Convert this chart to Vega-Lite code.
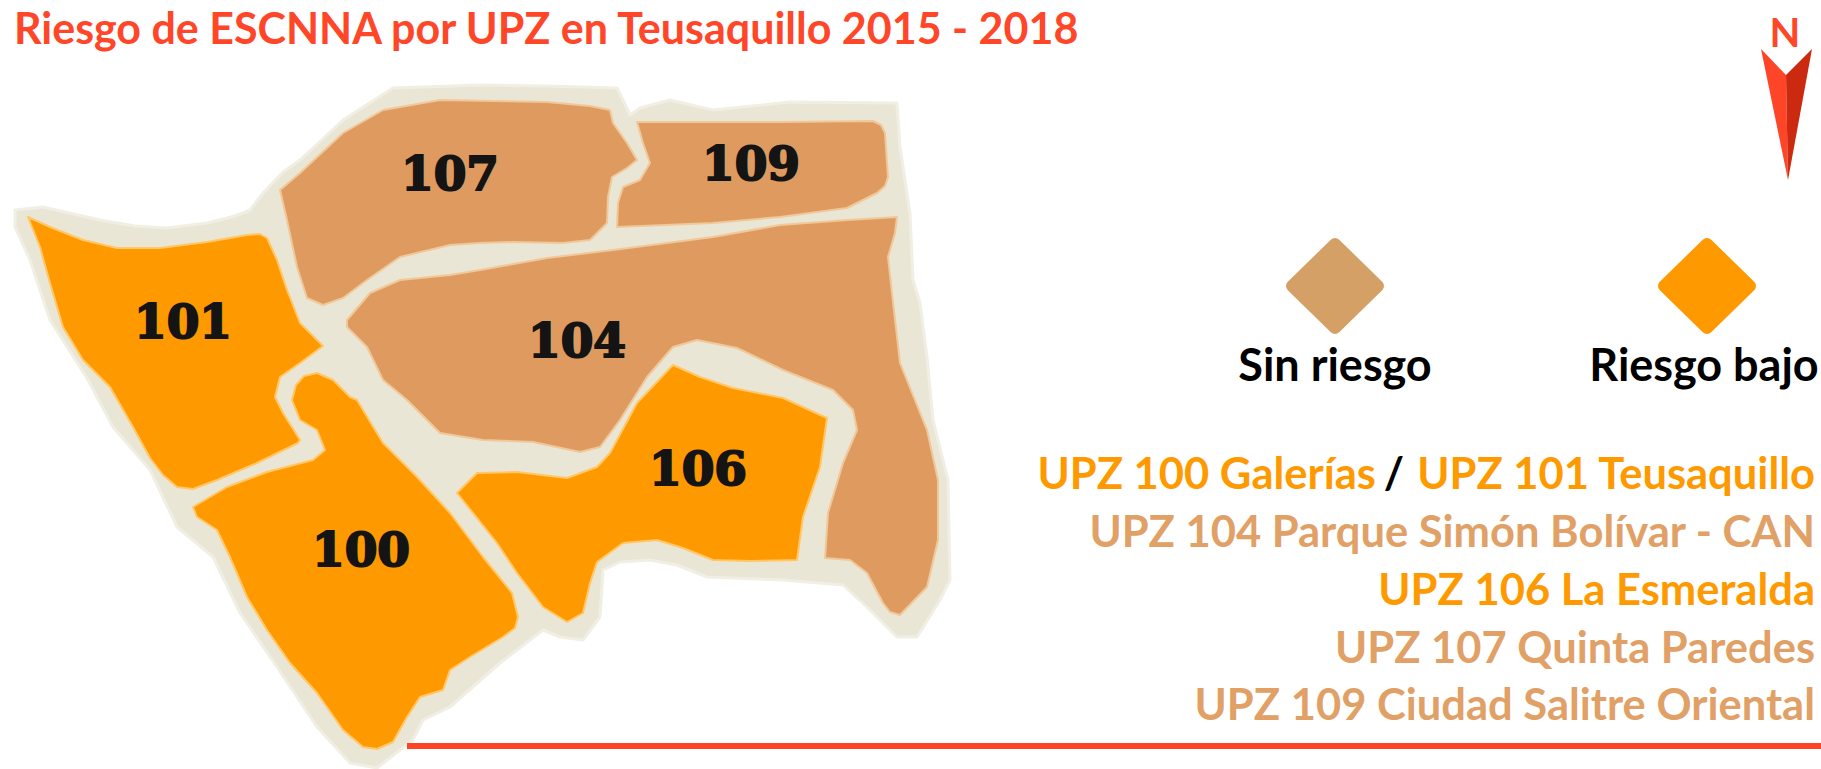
{"$schema":"https://vega.github.io/schema/vega-lite/v6.json","width":1821,"height":769,"autosize":{"type":"fit","contains":"padding"},"padding":0,"background":"white","view":{"stroke":null},"projection":{"type":"identity","scale":1,"translate":[0,0]},"resolve":{"scale":{"fill":"independent","stroke":"independent"}},
"layer":[
{"data":{"values":[{"type":"Feature","properties":{"nombre":"contorno"},"geometry":{"type":"Polygon","coordinates":[[[15,210],[43,207],[100,220],[135,226],[167,228],[207,223],[235,216],[250,210],[263,193],[283,172],[300,160],[343,120],[393,88],[480,85],[547,86],[617,88],[624,102],[630,115],[640,108],[670,100],[713,110],[790,102],[897,103],[900,147],[910,213],[913,280],[920,303],[927,357],[933,420],[948,480],[950,580],[940,600],[917,637],[897,637],[867,607],[843,585],[783,580],[707,577],[677,565],[650,560],[620,562],[603,570],[600,617],[583,640],[560,637],[543,630],[500,663],[450,707],[423,720],[413,740],[377,768],[350,763],[317,727],[277,667],[240,613],[213,557],[177,527],[150,470],[113,427],[88,380],[50,320],[30,260],[15,227],[15,210]]]}}]},"mark":{"type":"geoshape","fill":"#E9E6D6","stroke":"#F1EFE4","strokeWidth":3,"strokeJoin":"round"}},
{"data":{"values":[
{"type":"Feature","properties":{"upz":"101","riesgo":"Riesgo bajo"},"geometry":{"type":"Polygon","coordinates":[[[28,217],[50,227],[83,240],[117,248],[160,248],[207,242],[247,235],[260,234],[267,238],[277,260],[287,290],[300,323],[323,346],[300,363],[280,377],[275,397],[283,413],[300,440],[298,443],[257,463],[217,480],[193,489],[177,487],[163,475],[150,458],[133,427],[110,387],[83,360],[63,327],[50,283],[40,247],[28,217]]]}},
{"type":"Feature","properties":{"upz":"100","riesgo":"Riesgo bajo"},"geometry":{"type":"Polygon","coordinates":[[[317,373],[304,376],[296,385],[292,400],[300,420],[317,430],[325,450],[313,460],[267,472],[227,487],[193,507],[197,517],[217,530],[230,557],[247,597],[267,630],[290,663],[317,693],[343,730],[363,747],[377,749],[393,742],[407,717],[420,697],[443,690],[450,670],[470,657],[503,637],[515,628],[518,617],[512,593],[483,557],[450,513],[417,477],[383,443],[372,425],[357,400],[350,397],[333,380],[317,373]]]}},
{"type":"Feature","properties":{"upz":"107","riesgo":"Sin riesgo"},"geometry":{"type":"Polygon","coordinates":[[[280,190],[300,173],[343,133],[383,110],[440,100],[547,102],[590,106],[610,110],[613,123],[627,143],[637,160],[627,168],[612,177],[608,197],[607,223],[590,240],[563,243],[513,242],[480,243],[450,245],[400,257],[367,280],[343,298],[323,305],[307,298],[297,267],[287,220],[280,190]]]}},
{"type":"Feature","properties":{"upz":"109","riesgo":"Sin riesgo"},"geometry":{"type":"Polygon","coordinates":[[[637,122],[680,122],[780,122],[873,121],[881,125],[885,133],[888,177],[885,186],[877,193],[847,208],[780,217],[713,223],[617,227],[618,203],[623,187],[640,180],[650,163],[643,143],[637,122]]]}},
{"type":"Feature","properties":{"upz":"104","riesgo":"Sin riesgo"},"geometry":{"type":"Polygon","coordinates":[[[480,270],[547,258],[613,250],[713,237],[780,225],[847,220],[897,217],[895,233],[888,257],[892,293],[900,363],[927,430],[938,480],[938,540],[927,587],[900,615],[890,612],[883,603],[867,573],[850,560],[825,558],[828,513],[843,463],[857,430],[853,410],[833,390],[783,370],[737,348],[697,340],[673,347],[647,377],[620,420],[600,447],[580,452],[533,442],[483,440],[440,433],[407,400],[383,380],[367,347],[347,327],[347,320],[370,293],[400,280],[450,275],[480,270]]]}},
{"type":"Feature","properties":{"upz":"106","riesgo":"Riesgo bajo"},"geometry":{"type":"Polygon","coordinates":[[[673,365],[700,377],[733,388],[783,398],[827,418],[820,467],[803,517],[797,560],[750,561],[713,560],[683,548],[657,540],[623,543],[597,562],[590,583],[583,613],[567,622],[543,607],[517,573],[497,543],[457,493],[477,473],[517,472],[567,478],[597,467],[610,453],[637,403],[673,365]]]}}
]},"mark":{"type":"geoshape","strokeWidth":2,"strokeJoin":"round"},"encoding":{"fill":{"field":"properties.riesgo","type":"nominal","scale":{"domain":["Sin riesgo","Riesgo bajo"],"range":["#DF9B5F","#FF9900"]},"legend":null},"stroke":{"field":"properties.riesgo","type":"nominal","scale":{"domain":["Sin riesgo","Riesgo bajo"],"range":["#F0C89A","#FFC766"]},"legend":null}}},
{"data":{"values":[
{"type":"Feature","properties":{"riesgo":"Sin riesgo"},"geometry":{"type":"Polygon","coordinates":[[[1335,244],[1378,286],[1335,328],[1292,286],[1335,244]]]}},
{"type":"Feature","properties":{"riesgo":"Riesgo bajo"},"geometry":{"type":"Polygon","coordinates":[[[1707,244],[1750,286],[1707,328],[1664,286],[1707,244]]]}}
]},"mark":{"type":"geoshape","strokeWidth":12,"strokeJoin":"round"},"encoding":{"fill":{"field":"properties.riesgo","type":"nominal","scale":{"domain":["Sin riesgo","Riesgo bajo"],"range":["#D5A066","#FF9900"]},"legend":null},"stroke":{"field":"properties.riesgo","type":"nominal","scale":{"domain":["Sin riesgo","Riesgo bajo"],"range":["#D5A066","#FF9900"]},"legend":null}}},
{"data":{"values":[{"type":"Feature","properties":{"parte":"izquierda"},"geometry":{"type":"Polygon","coordinates":[[[1761,49],[1786,75],[1788,180],[1761,49]]]}},{"type":"Feature","properties":{"parte":"derecha"},"geometry":{"type":"Polygon","coordinates":[[[1812,49],[1786,75],[1788,180],[1812,49]]]}},{"type":"Feature","properties":{"parte":"linea"},"geometry":{"type":"Polygon","coordinates":[[[407,743],[1821,743],[1821,749],[407,749],[407,743]]]}}]},"mark":{"type":"geoshape"},"encoding":{"fill":{"field":"properties.parte","type":"nominal","scale":{"domain":["izquierda","derecha","linea"],"range":["#FF4528","#CC2A10","#FF4326"]},"legend":null}}},
{"data":{"values":[{"t":"101","lon":183,"lat":324},{"t":"107","lon":450,"lat":176},{"t":"109","lon":751,"lat":166},{"t":"104","lon":577,"lat":343},{"t":"106","lon":698,"lat":471},{"t":"100","lon":361,"lat":552}]},"mark":{"type":"text","font":"DejaVu Serif","fontWeight":"bold","fontSize":47,"align":"center","baseline":"middle","fill":"#141414","stroke":"#141414","strokeWidth":2},"encoding":{"longitude":{"field":"lon","type":"quantitative"},"latitude":{"field":"lat","type":"quantitative"},"text":{"field":"t"}}},
{"data":{"values":[{"t":"Riesgo de ESCNNA por UPZ en Teusaquillo 2015 - 2018","lon":14,"lat":31}]},"mark":{"type":"text","font":"Lato","fontWeight":"bold","fontSize":43,"align":"left","baseline":"middle","fill":"#FF4628"},"encoding":{"longitude":{"field":"lon","type":"quantitative"},"latitude":{"field":"lat","type":"quantitative"},"text":{"field":"t"}}},
{"data":{"values":[{"t":"N","lon":1785,"lat":35}]},"mark":{"type":"text","font":"Lato","fontWeight":"bold","fontSize":40,"align":"center","baseline":"middle","fill":"#FF4628"},"encoding":{"longitude":{"field":"lon","type":"quantitative"},"latitude":{"field":"lat","type":"quantitative"},"text":{"field":"t"}}},
{"data":{"values":[{"t":"Sin riesgo","lon":1335,"lat":367},{"t":"Riesgo bajo","lon":1704,"lat":367}]},"mark":{"type":"text","font":"Lato","fontWeight":"bold","fontSize":45,"align":"center","baseline":"middle","fill":"#000000"},"encoding":{"longitude":{"field":"lon","type":"quantitative"},"latitude":{"field":"lat","type":"quantitative"},"text":{"field":"t"}}},
{"data":{"values":[{"t":"UPZ 101 Teusaquillo","lon":1815,"lat":476,"r":"Riesgo bajo"},{"t":"/","lon":1404,"lat":476,"r":"separador"},{"t":"UPZ 100 Galerías","lon":1376,"lat":476,"r":"Riesgo bajo"},{"t":"UPZ 104 Parque Simón Bolívar - CAN","lon":1815,"lat":534,"r":"Sin riesgo"},{"t":"UPZ 106 La Esmeralda","lon":1815,"lat":592,"r":"Riesgo bajo"},{"t":"UPZ 107 Quinta Paredes","lon":1815,"lat":650,"r":"Sin riesgo"},{"t":"UPZ 109 Ciudad Salitre Oriental","lon":1815,"lat":707,"r":"Sin riesgo"}]},"mark":{"type":"text","font":"Lato","fontWeight":"bold","fontSize":43.5,"align":"right","baseline":"middle"},"encoding":{"longitude":{"field":"lon","type":"quantitative"},"latitude":{"field":"lat","type":"quantitative"},"text":{"field":"t"},"fill":{"field":"r","type":"nominal","scale":{"domain":["Sin riesgo","Riesgo bajo","separador"],"range":["#E0A066","#FF9900","#000000"]},"legend":null}}}
]}
